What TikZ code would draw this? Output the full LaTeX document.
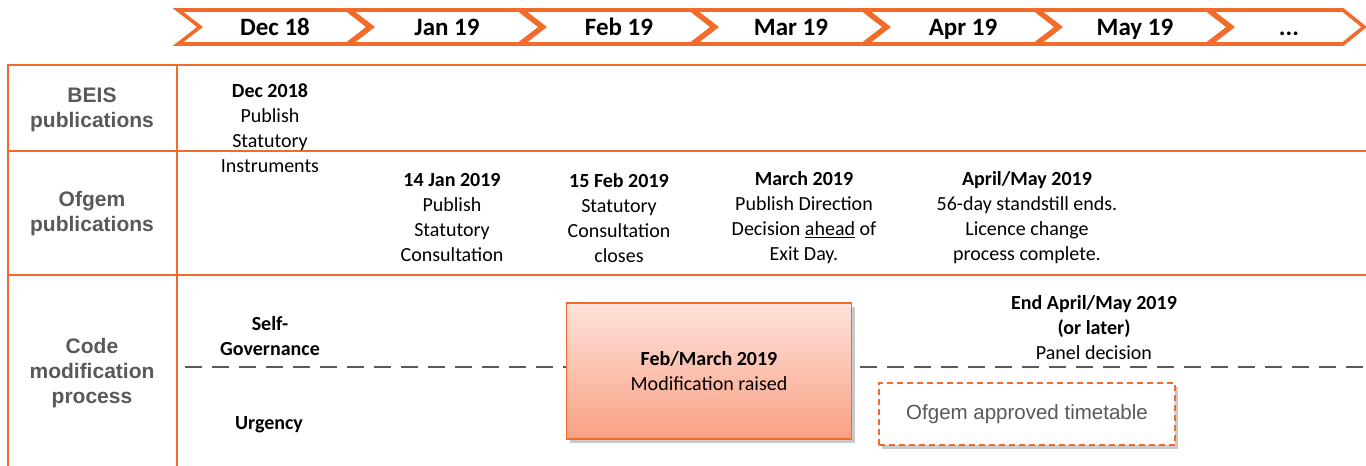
\documentclass[tikz,border=0pt]{standalone}
\usepackage{fontspec}
\setmainfont{Carlito}
\newfontfamily\arialfont{Liberation Sans}
\usepackage{xcolor}
\usepackage{tikz}
\usetikzlibrary{shadows}
\definecolor{accent}{HTML}{F26B2A}
\definecolor{ink}{HTML}{000000}
\definecolor{muted}{HTML}{595959}
\definecolor{paletop}{HTML}{FDE2DB}
\definecolor{palebot}{HTML}{F9A184}
\tikzset{
  grid/.style={draw=accent, line width=2.6pt},
  chev/.style={draw=accent, fill=white, line width=3.6pt, line join=miter},
  month/.style={font=\fontsize{25}{28}\selectfont\bfseries, text=ink, anchor=base},
  rowhead/.style={font=\arialfont\fontsize{21}{25}\selectfont\bfseries, text=muted, align=center},
  evt/.style={font=\fontsize{20}{25}\selectfont, text=ink, align=center},
  track/.style={font=\fontsize{20}{25}\selectfont\bfseries, text=ink, align=center},
  divide/.style={draw=muted, line width=1.8pt, dash pattern=on 17pt off 10pt},
  raised/.style={draw=accent, line width=1.4pt, top color=paletop, bottom color=palebot,
    minimum width=285pt, minimum height=136pt, font=\fontsize{20}{25}\selectfont, align=center,
    drop shadow={shadow xshift=3pt, shadow yshift=-4pt, opacity=0.3, fill=black!70}},
  plan/.style={draw=accent, line width=1.4pt, dash pattern=on 6pt off 4pt, fill=white,
    minimum width=296pt, minimum height=62pt, text=muted, font=\arialfont\fontsize{20.5}{24}\selectfont,
    drop shadow={shadow xshift=3pt, shadow yshift=-4pt, opacity=0.3, fill=black!70}},
}

\begin{document}
\begin{tikzpicture}[x=1pt, y=-1pt]
\useasboundingbox (0,0) rectangle (1366,466);
\coordinate (tl) at (8,65);
\coordinate (tr) at (1366,65);
\coordinate (bl) at (8,466);
\coordinate (ct) at (177,65);
\coordinate (cb) at (177,466);
\coordinate (r1l) at (8,151);
\coordinate (r1r) at (1366,151);
\coordinate (r2l) at (8,275);
\coordinate (r2r) at (1366,275);
\coordinate (dl) at (185,367);
\coordinate (dr) at (1366,367);

\foreach \i/\m in {0/Dec 18,1/Jan 19,2/Feb 19,3/Mar 19,4/Apr 19,5/May 19}{
  \pgfmathsetmacro\L{178+172*\i}
  \draw[chev] (\L,10) -- ++(169,0) -- ++(22,17) -- ++(-22,17) -- ++(-169,0) -- ++(22,-17) -- cycle;
  \node[month] (m\i) at (\L+97,35) {\m};
}
\draw[chev] (1210,10) -- (1343,10) -- (1364,27) -- (1343,44) -- (1210,44) -- (1232,27) -- cycle;
\node[month] (m6) at (1289,35) {...};

\draw[grid] (tr) -- (tl) -- (bl);
\draw[grid] (ct) -- (cb);
\draw[grid] (r1l) -- (r1r);
\draw[grid] (r2l) -- (r2r);

\node[rowhead] (beis) at (92,110) {BEIS\\publications};
\node[rowhead] (ofgem) at (92,214) {Ofgem\\publications};
\node[rowhead] (code) at (92,373) {Code\\modification\\process};

\node[evt] (si) at (270,128) {\textbf{Dec 2018}\\Publish\\Statutory\\Instruments};
\node[evt] (jan) at (452,218) {\textbf{14 Jan 2019}\\Publish\\Statutory\\Consultation};
\node[evt] (feb) at (619,218) {\textbf{15 Feb 2019}\\Statutory\\Consultation\\closes};
\node[evt] (mar) at (804,218) {\textbf{March 2019}\\Publish Direction\\Decision \underline{ahead} of\\Exit Day.};
\node[evt] (apr) at (1027,218) {\textbf{April/May 2019}\\56-day standstill ends.\\Licence change\\process complete.};

\draw[divide] (dl) -- (dr);
\node[track] (self) at (270,336) {Self-\\Governance};
\node[track] (urg) at (269,425) {Urgency};

\node[raised] (mod) at (709,371) {\textbf{Feb/March 2019}\\Modification raised};
\node[evt] (panel) at (1094,328) {\textbf{End April/May 2019}\\\textbf{(or later)}\\Panel decision};
\node[plan] (time) at (1027,414) {Ofgem approved timetable};
\end{tikzpicture}
\end{document}
